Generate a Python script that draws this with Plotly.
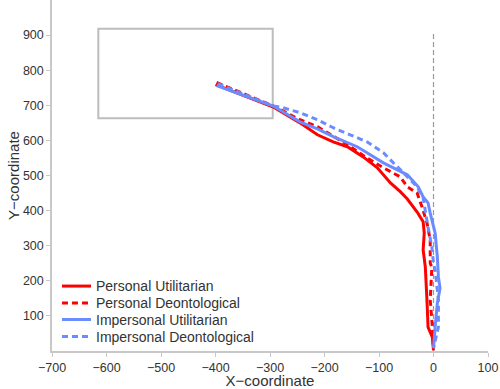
import plotly.graph_objects as go

# Personal Utilitarian
pu_x = [-400, -294, -245, -213, -184, -158, -129, -103, -79, -61, -48, -30, -19, -17, -19, -15, -12, -10, -2, 0]
pu_y = [759, 695, 650, 616, 596, 582, 553, 522, 479, 454, 433, 396, 368, 336, 288, 239, 145, 68, 39, 2]

# Personal Deontological
pd_x = [-398, -294, -245, -213, -158, -122, -92, -61, -48, -30, -21, -12, -6, -6, -3, -6, -2, 0]
pd_y = [765, 698, 659, 639, 588, 550, 522, 496, 468, 450, 410, 365, 316, 250, 239, 145, 68, 8]

# Impersonal Utilitarian
iu_x = [-398, -294, -245, -213, -184, -140, -122, -92, -48, -28, -19, -10, -6, 3, 7, 9, 12, 7, 3, 0]
iu_y = [756, 698, 653, 633, 611, 582, 565, 536, 502, 468, 439, 422, 393, 336, 268, 211, 179, 136, 68, 8]

# Impersonal Deontological
id_x = [-396, -294, -276, -245, -213, -184, -153, -122, -92, -74, -48, -30, -19, -15, -10, -3, 0, 3, 9, 9, 3, 0]
id_y = [762, 698, 693, 679, 659, 636, 616, 596, 565, 536, 496, 468, 436, 393, 353, 296, 250, 230, 145, 68, 30, 8]

series_names = ["Personal Utilitarian", "Personal Deontological",
                "Impersonal Utilitarian", "Impersonal Deontological"]

x_ticks = [-700, -600, -500, -400, -300, -200, -100, 0, 100]
y_ticks = [100, 200, 300, 400, 500, 600, 700, 800, 900]

rect_x = [-615, -295]
rect_y = [663, 918]
vline_y = [0, 910]

RED = "#ff0000"
BLUE = "#6b8cff"
colors = [RED, RED, BLUE, BLUE]
dashes = ["solid", "6px,4px", "solid", "6px,4px"]
series = [(pu_x, pu_y), (pd_x, pd_y), (iu_x, iu_y), (id_x, id_y)]

fig = go.Figure()
fig.add_trace(go.Scatter(x=[0, 0], y=vline_y, mode="lines", showlegend=False,
                         line=dict(color="#999999", width=1.2, dash="5px,3px"), hoverinfo="skip"))
for (sx, sy), name, c, d in zip(series, series_names, colors, dashes):
    fig.add_trace(go.Scatter(x=sx, y=sy, mode="lines", name=name, showlegend=False,
                             line=dict(color=c, width=3, dash=d)))

fig.add_shape(type="rect", x0=rect_x[0], x1=rect_x[1], y0=rect_y[0], y1=rect_y[1],
              line=dict(color="#bdbdbd", width=2), layer="below")

# legend (drawn as shapes + text annotations to match compact row spacing)
leg_rows = [0.185, 0.137, 0.0897, 0.0413]
for name, c, d, ry in zip(series_names, colors, dashes, leg_rows):
    fig.add_shape(type="line", xref="paper", yref="paper", x0=0.0229, x1=0.0894, y0=ry, y1=ry,
                  line=dict(color=c, width=3, dash=d))
    fig.add_annotation(xref="paper", yref="paper", x=0.0955, y=ry, text=name, showarrow=False,
                       xanchor="left", yanchor="middle", font=dict(size=14, color="#333333"))

axis_common = dict(showgrid=False, zeroline=False, showline=True, linecolor="#c8c8c8",
                   linewidth=1.5, ticks="outside", ticklen=4, tickcolor="#c8c8c8",
                   tickfont=dict(size=12.5, color="#333333"), automargin=False)

fig.update_layout(
    width=500, height=389,
    margin=dict(l=52, r=12, t=0, b=38),
    paper_bgcolor="white", plot_bgcolor="white",
    font=dict(family="Liberation Sans, Arial, sans-serif", color="#333333"),
    showlegend=False,
    xaxis=dict(range=[-700, 100], tickvals=x_ticks,
               title=dict(text="X\u2212coordinate", font=dict(size=15, color="#333333"), standoff=0),
               **axis_common),
    yaxis=dict(range=[0, 1000], tickvals=y_ticks,
               title=dict(text="Y\u2212coordinate", font=dict(size=15, color="#333333"), standoff=0),
               **axis_common),
)

fig.write_html("out.html", config={"displayModeBar": False},
               post_script="document.body.style.margin='0px';")
